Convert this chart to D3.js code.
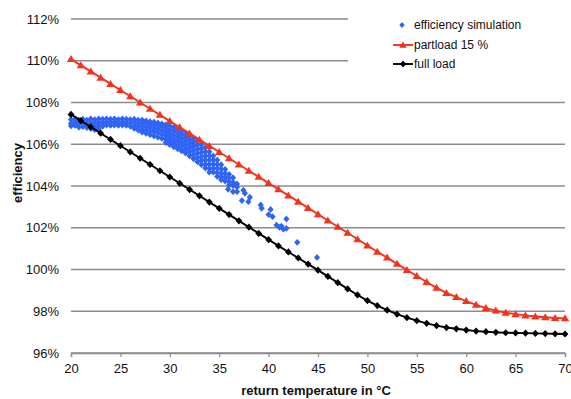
<!DOCTYPE html>
<html>
<head>
<meta charset="utf-8">
<script src="https://cdn.jsdelivr.net/npm/d3@7"></script>
<style>
  body { margin: 0; background: #fff; }
  svg { display: block; font-family: 'Liberation Sans', Arial, sans-serif; }
</style>
</head>
<body>
<svg id="chart" width="571" height="399"></svg>
<script>
// return temperature (°C), one per marker
const temps = d3.range(20, 71);

// partload 15 % (efficiency, %)
const partload = [
  110.08, 109.78, 109.49, 109.19, 108.89, 108.60, 108.30, 108.00, 107.70, 107.41,
  107.11, 106.81, 106.52, 106.22, 105.92, 105.63, 105.33, 105.03, 104.73, 104.44,
  104.14, 103.84, 103.55, 103.25, 102.95, 102.65, 102.35, 102.05, 101.76, 101.45,
  101.15, 100.85, 100.57, 100.27, 99.98, 99.69, 99.40, 99.12, 98.88, 98.68,
  98.49, 98.31, 98.15, 98.03, 97.93, 97.86, 97.80, 97.75, 97.71, 97.68, 97.66,
];

// full load (efficiency, %)
const fullLoad = [
  107.43, 107.13, 106.83, 106.53, 106.23, 105.93, 105.63, 105.33, 105.03, 104.73,
  104.43, 104.13, 103.83, 103.53, 103.23, 102.93, 102.63, 102.33, 102.03, 101.73,
  101.43, 101.13, 100.84, 100.55, 100.26, 99.97, 99.67, 99.37, 99.07, 98.78,
  98.51, 98.27, 98.05, 97.86, 97.69, 97.55, 97.42, 97.31, 97.22, 97.16,
  97.10, 97.05, 97.02, 96.99, 96.97, 96.96, 96.95, 96.94, 96.93, 96.92, 96.91,
];

// efficiency simulation: [temperature, efficiency]
const simulation = [
  [20.0, 107.18], [20.0, 107.00], [20.0, 106.88],
  [20.4, 107.20], [20.4, 107.05], [20.4, 106.90],
  [20.8, 107.15], [20.8, 106.98], [20.8, 106.82],
  [21.2, 107.20], [21.2, 107.02], [21.2, 106.85],
  [21.6, 107.16], [21.6, 106.95], [21.6, 106.80],
  [22.0, 107.22], [22.0, 107.05], [22.0, 106.88], [22.0, 106.75],
  [22.4, 107.18], [22.4, 107.00], [22.4, 106.82], [22.4, 106.70],
  [22.8, 107.22], [22.8, 107.06], [22.8, 106.90], [22.8, 106.74],
  [23.2, 107.20], [23.2, 107.02], [23.2, 106.86],
  [23.6, 107.22], [23.6, 107.08], [23.6, 106.92],
  [24.0, 107.20], [24.0, 107.04], [24.0, 106.90],
  [24.4, 107.22], [24.4, 107.08], [24.4, 106.92],
  [24.8, 107.18], [24.8, 107.02], [24.8, 106.90],
  [25.2, 107.22], [25.2, 107.06], [25.2, 106.92],
  [25.6, 107.20], [25.6, 107.04], [25.6, 106.90],
  [26.0, 107.18], [26.0, 107.02], [26.0, 106.86],
  [26.4, 107.20], [26.4, 107.04], [26.4, 106.88], [26.4, 106.76],
  [26.8, 107.16], [26.8, 107.00], [26.8, 106.84], [26.8, 106.68],
  [27.2, 107.16], [27.2, 107.02], [27.2, 106.86], [27.2, 106.70], [27.2, 106.58],
  [27.6, 107.12], [27.6, 106.98], [27.6, 106.82], [27.6, 106.66], [27.6, 106.52],
  [28.0, 107.08], [28.0, 106.94], [28.0, 106.80], [28.0, 106.64], [28.0, 106.46],
  [28.4, 107.06], [28.4, 106.92], [28.4, 106.76], [28.4, 106.60], [28.4, 106.40],
  [28.8, 107.02], [28.8, 106.88], [28.8, 106.72], [28.8, 106.54], [28.8, 106.34],
  [29.2, 106.98], [29.2, 106.84], [29.2, 106.66], [29.2, 106.48], [29.2, 106.28],
  [29.6, 106.94], [29.6, 106.78], [29.6, 106.60], [29.6, 106.42], [29.6, 106.24], [29.6, 106.08],
  [30.0, 106.88], [30.0, 106.70], [30.0, 106.52], [30.0, 106.34], [30.0, 106.16], [30.0, 105.98],
  [30.4, 106.82], [30.4, 106.64], [30.4, 106.44], [30.4, 106.24], [30.4, 106.06], [30.4, 105.88],
  [30.8, 106.74], [30.8, 106.56], [30.8, 106.36], [30.8, 106.16], [30.8, 105.96], [30.8, 105.78],
  [31.2, 106.64], [31.2, 106.46], [31.2, 106.26], [31.2, 106.06], [31.2, 105.88], [31.2, 105.68],
  [31.6, 106.52], [31.6, 106.34], [31.6, 106.14], [31.6, 105.94], [31.6, 105.76], [31.6, 105.58],
  [32.0, 106.40], [32.0, 106.22], [32.0, 106.02], [32.0, 105.82], [32.0, 105.64], [32.0, 105.44],
  [32.4, 106.28], [32.4, 106.10], [32.4, 105.90], [32.4, 105.70], [32.4, 105.50], [32.4, 105.30],
  [32.8, 106.16], [32.8, 105.96], [32.8, 105.76], [32.8, 105.56], [32.8, 105.36], [32.8, 105.16],
  [33.2, 106.00], [33.2, 105.80], [33.2, 105.60], [33.2, 105.40], [33.2, 105.22], [33.2, 105.02],
  [33.6, 105.84], [33.6, 105.64], [33.6, 105.44], [33.6, 105.24], [33.6, 105.04], [33.6, 104.86],
  [34.0, 105.64], [34.0, 105.44], [34.0, 105.24], [34.0, 105.04], [34.0, 104.84], [34.0, 104.66],
  [34.4, 105.44], [34.4, 105.24], [34.4, 105.04], [34.4, 104.84], [34.4, 104.66],
  [34.8, 105.24], [34.8, 105.04], [34.8, 104.84], [34.8, 104.64], [34.8, 104.46],
  [35.2, 105.02], [35.2, 104.82], [35.2, 104.62], [35.2, 104.44], [35.2, 104.30],
  [35.6, 104.80], [35.6, 104.60], [35.6, 104.42], [35.6, 104.24],
  [36.0, 104.56], [36.0, 104.38], [36.0, 104.20], [36.0, 104.04],
  [36.4, 104.40], [36.4, 104.18], [36.4, 104.02],
  [36.8, 104.10], [36.8, 103.95],
  [35.9, 103.84], [36.4, 103.73], [36.8, 103.73], [37.45, 103.80], [37.6, 103.65],
  [37.3, 103.30], [38.1, 103.46], [37.95, 103.25], [39.2, 103.09], [39.3, 102.93],
  [40.2, 102.88], [40.0, 102.63], [40.4, 102.53], [41.8, 102.42], [41.3, 102.08],
  [41.5, 101.93], [41.8, 101.97], [40.8, 102.13], [41.1, 102.02], [42.9, 101.30],
  [44.9, 100.58],
];

const yTicks = [96, 98, 100, 102, 104, 106, 108, 110, 112];
const xTicks = [20, 25, 30, 35, 40, 45, 50, 55, 60, 65, 70];

const blue = '#2f64f5';
const red = '#f5321c';

const svg = d3.select('#chart');
const margin = { top: 19, right: 6, bottom: 46, left: 71 };
const width = 571 - margin.left - margin.right;
const height = 399 - margin.top - margin.bottom;

const x = d3.scaleLinear().domain([20, 70]).range([margin.left, margin.left + width]);
const y = d3.scaleLinear().domain([96, 112]).range([margin.top + height, margin.top]);

// gridlines
svg.append('g')
  .selectAll('line')
  .data(yTicks)
  .enter()
  .append('line')
  .attr('x1', x(20))
  .attr('x2', x(70))
  .attr('y1', (d) => y(d))
  .attr('y2', (d) => y(d))
  .attr('stroke', '#8c8c8c')
  .attr('stroke-width', 1.4);

// y tick labels
svg.append('g')
  .selectAll('text')
  .data(yTicks)
  .enter()
  .append('text')
  .attr('x', 59)
  .attr('y', (d) => y(d) + 4.6)
  .attr('text-anchor', 'end')
  .attr('font-size', '13px')
  .attr('fill', '#111')
  .text((d) => `${d}%`);

// x axis
const xaxis = svg.append('g')
  .attr('transform', `translate(0,${y(96)})`)
  .call(d3.axisBottom(x).tickValues(xTicks).tickSize(4).tickPadding(7));
xaxis.select('.domain').attr('stroke', '#8c8c8c').attr('stroke-width', 1.4);
xaxis.selectAll('.tick line').attr('stroke', '#8c8c8c').attr('stroke-width', 1.2);
xaxis.selectAll('text')
  .attr('font-size', '13px')
  .attr('font-family', "'Liberation Sans', Arial, sans-serif")
  .attr('fill', '#111');

// axis titles
svg.append('text')
  .attr('x', 316)
  .attr('y', 395)
  .attr('text-anchor', 'middle')
  .attr('font-size', '13px')
  .attr('font-weight', 'bold')
  .attr('fill', '#111')
  .text('return temperature in °C');

svg.append('text')
  .attr('transform', 'translate(22,173) rotate(-90)')
  .attr('text-anchor', 'middle')
  .attr('font-size', '13px')
  .attr('font-weight', 'bold')
  .attr('fill', '#111')
  .text('efficiency');

// marker shapes
const diamond = (hw, hh) => `M0,${-hh}L${hw},0L0,${hh}L${-hw},0Z`;
const triangle = (s) => `M0,${-s}L${s * 1.05},${s * 0.75}L${-s * 1.05},${s * 0.75}Z`;

// efficiency simulation scatter
svg.append('g')
  .selectAll('path')
  .data(simulation)
  .enter()
  .append('path')
  .attr('transform', (d) => `translate(${x(d[0])},${y(d[1])})`)
  .attr('d', diamond(3.1, 3.4))
  .attr('fill', blue);

const line = d3.line()
  .x((d, i) => x(temps[i]))
  .y((d) => y(d));

// partload 15 %
svg.append('path')
  .datum(partload)
  .attr('fill', 'none')
  .attr('stroke', red)
  .attr('stroke-width', 1.9)
  .attr('d', line);
svg.append('g')
  .selectAll('path')
  .data(partload)
  .enter()
  .append('path')
  .attr('transform', (d, i) => `translate(${x(temps[i])},${y(d)})`)
  .attr('d', triangle(4))
  .attr('fill', red);

// full load
svg.append('path')
  .datum(fullLoad)
  .attr('fill', 'none')
  .attr('stroke', '#000')
  .attr('stroke-width', 1.9)
  .attr('d', line);
svg.append('g')
  .selectAll('path')
  .data(fullLoad)
  .enter()
  .append('path')
  .attr('transform', (d, i) => `translate(${x(temps[i])},${y(d)})`)
  .attr('d', diamond(3.4, 3.6))
  .attr('fill', '#000');

// legend
const legend = svg.append('g');
legend.append('rect')
  .attr('x', 348)
  .attr('y', 0)
  .attr('width', 223)
  .attr('height', 86)
  .attr('fill', '#fff');

const legendItems = [
  { label: 'efficiency simulation', color: blue, cy: 25, kind: 'scatter' },
  { label: 'partload 15 %', color: red, cy: 45, kind: 'triangle' },
  { label: 'full load', color: '#000', cy: 64, kind: 'diamond' },
];
legendItems.forEach((item) => {
  if (item.kind !== 'scatter') {
    legend.append('line')
      .attr('x1', 393).attr('x2', 413)
      .attr('y1', item.cy).attr('y2', item.cy)
      .attr('stroke', item.color)
      .attr('stroke-width', 1.9);
  }
  let shape = diamond(2.7, 3);
  if (item.kind === 'triangle') shape = triangle(3.6);
  if (item.kind === 'diamond') shape = diamond(3.2, 3.4);
  legend.append('path')
    .attr('transform', `translate(${item.kind === 'scatter' ? 402 : 403},${item.cy})`)
    .attr('d', shape)
    .attr('fill', item.color);
  legend.append('text')
    .attr('x', 414)
    .attr('y', item.cy + 4.3)
    .attr('font-size', '12px')
    .attr('fill', '#111')
    .text(item.label);
});
</script>
</body>
</html>
